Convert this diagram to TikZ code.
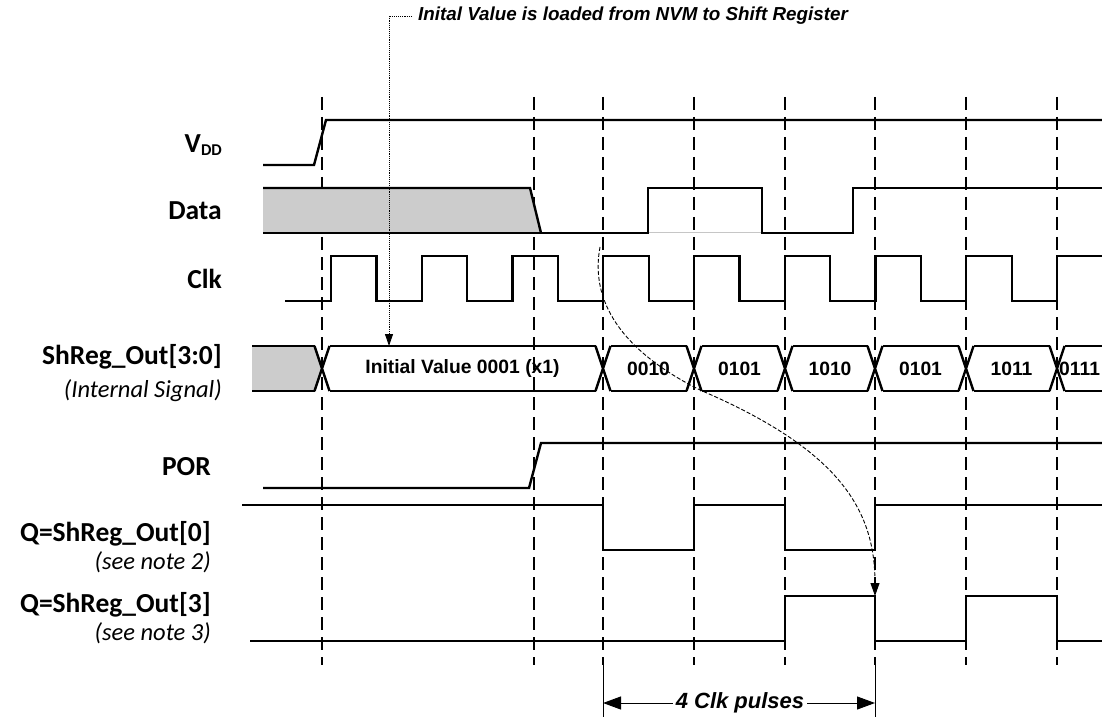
\documentclass[tikz,border=0pt]{standalone}
\usepackage{fontspec}
\setmainfont{Liberation Sans}
\newfontfamily\lblfont{Carlito}
\usetikzlibrary{arrows.meta}

\begin{document}
\begin{tikzpicture}[x=1pt,y=-1pt,
	sig/.style={line width=2.4pt},
	tick/.style={line width=2.8pt, dash pattern=on 13pt off 7pt},
	hatch/.style={fill=black!20},
	lbl/.style={font=\lblfont\bfseries\fontsize{27.5}{30}\selectfont, anchor=base east, inner sep=0pt},
	sublbl/.style={font=\lblfont\itshape\fontsize{24.5}{28}\selectfont, anchor=base east, inner sep=0pt},
	val/.style={font=\bfseries\fontsize{19.3}{21}\selectfont, inner sep=0pt},
	note/.style={font=\bfseries\itshape\fontsize{18.8}{22}\selectfont}]
\useasboundingbox (0,0) rectangle (1102,719);

% signal names
\path (222,153) node[lbl] (vdd) {V\raisebox{-2.5pt}{\fontsize{16.5}{17}\selectfont DD}}
		(222,220) node[lbl] (data) {Data}
		(222,288) node[lbl] (clk) {Clk}
		(222,364) node[lbl] (shreg) {ShReg\_Out[3:0]}
		(222,397) node[sublbl] (internal) {(Internal Signal)}
		(211,475) node[lbl] (por) {POR}
		(211,541.5) node[lbl] (qzero) {Q=ShReg\_Out[0]}
		(211,569) node[sublbl] (notetwo) {(see note 2)}
		(211,612.5) node[lbl] (qthree) {Q=ShReg\_Out[3]}
		(211,640) node[sublbl] (notethree) {(see note 3)}
		;

% clock edges
\foreach \x in {322,534,603,694,785,875,966,1057}
	\draw[tick] (\x,97) -- (\x,665);
\draw[line width=0.8pt] (603,665) -- (603,717) (875,665) -- (875,717);

% VDD and Data
\draw[sig] (263,165) -- (314,165) -- (326,120) -- (1102,120);
\fill[hatch] (263,188) -- (530,188) -- (541,233) -- (263,233) -- cycle;
\draw[sig] (263,188) -- (530,188) -- (541,233);
\draw[gray!45, line width=1pt] (648,233) -- (762,233);
\draw[sig] (263,233) -- (648,233) -- (648,188) -- (762,188) -- (762,233)
	-- (853,233) -- (853,188) -- (1102,188);

% Clk
\draw[sig] (285,301) \foreach \k in {0,...,7} {
	-- ({331+90.75*\k},301) -- ({331+90.75*\k},256)
	-- ({376.5+90.75*\k},256) -- ({376.5+90.75*\k},301) }
	-- (1057,301) -- (1057,256) -- (1102,256);

% ShReg_Out[3:0]
\fill[hatch] (252,346) -- (314.5,346) -- (322,368.5) -- (314.5,391) -- (252,391) -- cycle;
\draw[sig] (252,346) -- (314.5,346) (252,391) -- (314.5,391);
\foreach \t in {322,603,694,785,875,966,1057}
	\draw[sig] (\t-7.5,346) -- (\t+7.5,391) (\t-7.5,391) -- (\t+7.5,346);
\foreach \a/\b in {322/603,603/694,694/785,785/875,875/966,966/1057}
	\draw[sig] (\a+7.5,346) -- (\b-7.5,346) (\a+7.5,391) -- (\b-7.5,391);
\draw[sig] (1064.5,346) -- (1102,346) (1064.5,391) -- (1102,391);
\path (462.5,368.5) node[val] (init) {Initial Value 0001 (x1)}
		(648.5,368.5) node[val] (va) {0010}
		(739.5,368.5) node[val] (vb) {0101}
		(830,368.5) node[val] (vc) {1010}
		(920.5,368.5) node[val] (vd) {0101}
		(1011.5,368.5) node[val] (ve) {1011}
		(1059,368.5) node[val, anchor=west] (vf) {0111}
		;

% POR and outputs
\draw[sig] (263,488) -- (529,488) -- (541,443) -- (1102,443);
\draw[sig] (242,505) -- (603,505) -- (603,550) -- (694,550) -- (694,505)
	-- (785,505) -- (785,550) -- (875,550) -- (875,505) -- (1102,505);
\draw[sig] (250,641) -- (785,641) -- (785,596) -- (875,596) -- (875,641)
	-- (966,641) -- (966,596) -- (1057,596) -- (1057,641) -- (1102,641);

% annotations
\node[note, anchor=west, inner xsep=6pt, inner ysep=0pt] (load) at (412,16)
	{Inital Value is loaded from NVM to Shift Register};
\coordinate (loadend) at (389,346);
\draw[densely dotted, line width=0.9pt, -{Triangle[length=12pt,width=8pt]}] (load.west) -| (loadend);

\coordinate (shstart) at (600,247);
\coordinate (shend) at (875,596);
\draw[line width=0.9pt, dash pattern=on 4pt off 2pt, -{Triangle[length=13pt,width=9pt]}]
	(shstart) .. controls (590,300) and (620,350) .. (700,390)
	.. controls (840,450) and (875,510) .. (shend);

\coordinate (pl) at (603,703);
\coordinate (pr) at (875,703);
\draw[line width=1pt, {Triangle[length=18pt,width=13pt]}-{Triangle[length=18pt,width=13pt]}] (pl) -- (pr);
\node[note, font=\bfseries\itshape\fontsize{22}{24}\selectfont, fill=white, inner sep=3pt] (pulses) at (740,703) {4 Clk pulses};
\end{tikzpicture}
\end{document}
